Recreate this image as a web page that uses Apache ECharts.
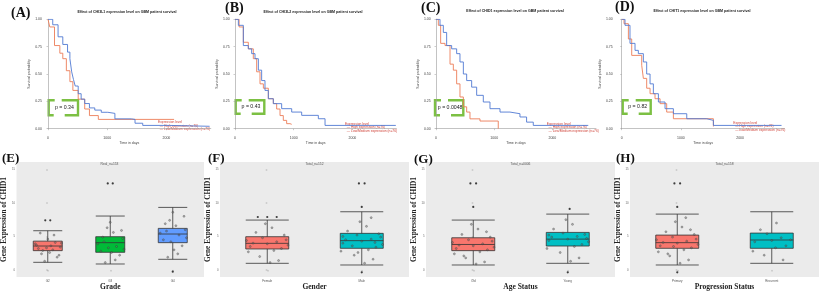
<!DOCTYPE html>
<html>
<head>
<meta charset="utf-8">
<script src="https://cdn.jsdelivr.net/npm/echarts@6/dist/echarts.min.js"></script>
<style>
  html, body { margin: 0; padding: 0; background: #fff; }
  #chart { width: 824px; height: 294px; }
</style>
</head>
<body>
<div id="chart"></div>
<script>
// ---- Kaplan-Meier curves, [days, survival probability] ----
const survA_low = [[0,1],[80,0.95],[170,0.84],[250,0.77],[330,0.70],[370,0.64],[400,0.52],[430,0.45],[460,0.39],[510,0.32],[560,0.27],[620,0.23],[700,0.19],[790,0.17],[900,0.15],[1010,0.14],[1130,0.09],[1410,0.085],[1470,0.05],[1600,0.03],[2050,0.022],[2730,0.022]];
const survA_high = [[0,1],[30,0.93],[110,0.76],[200,0.69],[250,0.64],[310,0.53],[370,0.43],[420,0.35],[510,0.27],[620,0.18],[700,0.12],[850,0.085],[2130,0.085]];
const survB_low = [[0,1],[57,0.945],[142,0.76],[227,0.73],[284,0.686],[341,0.64],[398,0.535],[454,0.44],[511,0.35],[568,0.274],[653,0.229],[795,0.183],[966,0.152],[1136,0.122],[1420,0.091],[1534,0.03],[2740,0.03]];
const survB_high = [[0,1],[70,0.93],[142,0.79],[227,0.73],[312,0.64],[369,0.52],[426,0.41],[483,0.37],[568,0.274],[653,0.23],[710,0.18],[767,0.12],[823,0.076],[880,0.046],[937,0.04],[966,0.04]];
const survC_low = [[0,1],[69,0.945],[126,0.88],[183,0.76],[269,0.73],[355,0.686],[412,0.61],[470,0.5],[527,0.44],[613,0.38],[699,0.305],[813,0.244],[928,0.183],[1100,0.152],[1271,0.137],[1443,0.107],[1557,0.06],[1672,0.03],[2617,0.03]];
const survC_high = [[0,1],[40,0.945],[80,0.78],[155,0.76],[241,0.59],[298,0.535],[355,0.41],[412,0.29],[470,0.2],[527,0.152],[584,0.09],[756,0.07],[1070,0.0]];
const survD_low = [[0,1],[56,0.945],[140,0.78],[225,0.716],[281,0.686],[366,0.61],[422,0.5],[479,0.41],[535,0.32],[620,0.244],[732,0.183],[873,0.137],[1099,0.091],[1437,0.076],[1549,0.03],[2700,0.03]];
const survD_high = [[0,1],[39,0.96],[113,0.82],[169,0.67],[338,0.58],[366,0.46],[422,0.37],[479,0.32],[563,0.274],[648,0.229],[760,0.152],[873,0.091],[1549,0.02]];

const kmTitles = [
  'Effect of CHI3L1 expression level on GBM patient survival',
  'Effect of CHI3L2 expression level on GBM patient survival',
  'Effect of CHID1 expression level on GBM patient survival',
  'Effect of CHIT1 expression level on GBM patient survival'
];
const pValues = ['p = 0.34', 'p = 0.43', 'p = 0.0048', 'p = 0.82'];

// ---- box plots: [min, Q1, median, Q3, max] ----
const gradeCats = ['G2', 'G3', 'G4'];
const gradeBoxes = [[1.14,2.88,3.57,4.3,5.85],[0.89,2.63,4.07,4.96,8.04],[1.59,4.07,5.36,6.2,9.33]];
const gradePoints = [[-0.15,3.2],[0.05,3.6],[0.12,4.1],[-0.08,2.9],[0.2,3.4],[-0.2,3.9],[0.0,4.6],[0.1,5.2],[-0.1,2.4],[0.15,1.9],[-0.05,1.3],[0.08,3.0],[-0.18,3.7],[0.22,4.0],[-0.12,5.5],[0.03,2.6],[-0.02,3.3],[0.18,2.2],
  [0.9,4.2],[1.1,3.5],[1.05,5.6],[0.85,2.8],[1.2,4.7],[0.95,6.3],[1.15,2.2],[0.8,3.9],[1.0,7.1],[1.08,1.5],[0.92,1.1],[1.22,3.1],[0.88,4.9],[1.02,2.6],[1.18,5.9],[0.97,3.3],
  [1.9,5.8],[2.1,5.2],[2.05,6.6],[1.85,4.5],[2.2,6.0],[1.95,7.4],[2.15,3.6],[1.8,5.5],[2.0,8.6],[2.08,2.4],[1.92,1.9],[2.22,4.8],[1.88,6.9],[2.02,3.0],[2.18,8.0],[1.97,4.2]];
const gradeOutliers = [[-0.04,7.4],[0.04,7.4],[0.96,12.9],[1.04,12.9],[2.0,-0.25]];

const genderCats = ['Female', 'Male'];
const genderBoxes = [[0.99,3.13,3.97,4.96,7.44],[0.74,3.23,4.37,5.46,8.68]];
const genderPoints = [[-0.18,3.5],[0.1,4.2],[-0.05,4.8],[0.15,3.2],[-0.12,5.6],[0.05,6.3],[-0.2,2.7],[0.2,4.5],[0,3.9],[-0.08,2.0],[0.12,1.4],[0.18,5.2],[-0.15,4.0],[0.07,2.9],[-0.02,6.9],[0.22,3.7],[-0.22,4.4],[0.03,1.1],
  [0.8,4.0],[1.1,4.6],[0.95,5.2],[1.15,3.4],[0.85,5.8],[1.05,6.5],[0.78,2.8],[1.2,4.9],[1.0,4.3],[0.92,2.2],[1.12,1.6],[1.18,5.4],[0.83,4.5],[1.07,3.0],[0.98,7.2],[1.22,3.8],[0.8,5.0],[1.03,1.0],[0.9,3.6],[1.1,7.8],[0.96,2.6],[1.14,4.1]];
const genderOutliers = [[-0.1,7.9],[0.0,7.9],[0.1,7.9],[0.97,12.9],[1.03,12.9],[1.0,9.4],[1.0,-0.35]];

const ageCats = ['Old', 'Young'];
const ageBoxes = [[0.74,2.88,3.8,4.8,7.44],[0.99,3.57,4.6,5.6,8.33]];
const agePoints = [[-0.18,3.2],[0.1,3.9],[-0.05,4.5],[0.15,3.0],[-0.12,5.3],[0.05,6.1],[-0.2,2.4],[0.2,4.3],[0,3.6],[-0.08,1.8],[0.12,1.2],[0.18,4.9],[-0.15,3.7],[0.07,2.7],[-0.02,6.8],[0.22,3.4],[-0.22,4.1],[0.03,0.9],[-0.1,2.1],[0.14,5.7],
  [0.8,4.4],[1.1,5.0],[0.95,5.5],[1.15,3.8],[0.85,6.1],[1.05,6.8],[0.78,3.2],[1.2,4.7],[1.0,4.6],[0.92,2.6],[1.12,1.8],[1.18,5.3],[0.83,4.9],[1.07,3.5],[0.98,7.5],[1.22,4.2],[0.8,5.2],[1.03,1.3]];
const ageOutliers = [[-0.03,12.9],[0.03,12.9],[0,9.4],[1.0,-0.35],[1.02,9.1]];

const progCats = ['Primary', 'Recurrent'];
const progBoxes = [[0.74,3.23,4.07,5.2,8.33],[0.99,3.23,4.47,5.5,8.68]];
const progPoints = [[-0.18,3.6],[0.1,4.3],[-0.05,4.9],[0.15,3.3],[-0.12,5.7],[0.05,6.4],[-0.2,2.7],[0.2,4.6],[0,4.0],[-0.08,2.1],[0.12,1.5],[0.18,5.3],[-0.15,4.1],[0.07,3.0],[-0.02,7.2],[0.22,3.8],[-0.22,4.5],[0.03,1.0],[-0.1,2.4],[0.14,6.0],[-0.04,3.5],[0.09,7.8],
  [0.82,4.2],[1.1,4.8],[0.95,5.4],[1.15,3.6],[0.88,6.0],[1.05,7.0],[0.8,2.8],[1.2,4.5],[1.0,4.4],[0.92,2.2],[1.12,1.5],[1.04,3.3]];
const progOutliers = [[-0.03,12.9],[0.03,12.9],[0,9.4],[0,-0.35]];

const BLUE = '#5079d3';
const ORANGE = '#ec7d58';
const GREEN_P = '#7cc043';
const LEGEND_RED = '#d0443a';
const SERIF = '"Liberation Serif", "DejaVu Serif", serif';
const SANS = '"Liberation Sans", Arial, sans-serif';

const kmPanels = [
  { label: '(A)', lx: 11, ly: 13.5, grid: { left: 48, top: 19.3, width: 162.8, height: 109.4 }, yOff: 4, low: survA_low, high: survA_high, titleX: 127, titleY: 11.7, pBox: [48.7, 100.3, 78, 115.3], legend: [158, 120.5] },
  { label: '(B)', lx: 225, ly: 8.5, grid: { left: 235, top: 19.3, width: 161.4, height: 109.4 }, yOff: 3.3, low: survB_low, high: survB_high, titleX: 313, titleY: 11.7, pBox: [235.7, 100.3, 264.3, 113.7], legend: [345, 122] },
  { label: '(C)', lx: 421, ly: 8.5, grid: { left: 436, top: 19.3, width: 160, height: 109.4 }, yOff: 3.3, low: survC_low, high: survC_high, titleX: 515, titleY: 10.7, pBox: [435, 100.3, 463.3, 115.3], legend: [546.7, 122] },
  { label: '(D)', lx: 615, ly: 7, grid: { left: 621.7, top: 19.3, width: 162.8, height: 109.4 }, yOff: 7, low: survD_low, high: survD_high, titleX: 702, titleY: 10.7, pBox: [622.7, 100.3, 650.7, 113.7], legend: [733.3, 121] }
];

const boxPanels = [
  { label: '(E)', lx: 2, ly: 158.3, left: 15, cats: gradeCats, boxes: gradeBoxes, points: gradePoints, outliers: gradeOutliers, colors: ['#f8766d', '#00ba38', '#619cff'], boxW: 29, xName: 'Grade', sub: 'Real_n=153' },
  { label: '(F)', lx: 208, ly: 159, left: 220, cats: genderCats, boxes: genderBoxes, points: genderPoints, outliers: genderOutliers, colors: ['#f8766d', '#00bfc4'], boxW: 43, xName: 'Gender', sub: 'Total_n=152' },
  { label: '(G)', lx: 414, ly: 159.5, left: 426, cats: ageCats, boxes: ageBoxes, points: agePoints, outliers: ageOutliers, colors: ['#f8766d', '#00bfc4'], boxW: 43, xName: 'Age Status', sub: 'Total_n=0006' },
  { label: '(H)', lx: 616, ly: 159, left: 630, cats: progCats, boxes: progBoxes, points: progPoints, outliers: progOutliers, colors: ['#f8766d', '#00bfc4'], boxW: 43, xName: 'Progression Status', sub: 'Total_n=158' }
];

const grids = [], xAxes = [], yAxes = [], series = [], graphics = [];

kmPanels.forEach((p, i) => {
  grids.push(p.grid);
  xAxes.push({
    gridIndex: i, type: 'value', min: 0, max: 2750, interval: 1000, offset: 5,
    name: 'Time in days', nameLocation: 'middle', nameGap: 6,
    nameTextStyle: { fontSize: 3.5, color: '#444', fontFamily: SANS },
    axisLine: { lineStyle: { color: '#9a9a9a', width: 0.6 } },
    axisTick: { length: 1.5, lineStyle: { color: '#9a9a9a', width: 0.5 } },
    axisLabel: { fontSize: 3.5, color: '#444', margin: 2, fontFamily: SANS, showMaxLabel: false, formatter: v => String(v) },
    splitLine: { show: false }
  });
  yAxes.push({
    gridIndex: i, type: 'value', min: 0, max: 1, interval: 0.25, offset: p.yOff,
    name: 'Survival probability', nameLocation: 'middle', nameGap: 12,
    nameTextStyle: { fontSize: 3.5, color: '#444', fontFamily: SANS },
    axisLine: { show: true, lineStyle: { color: '#9a9a9a', width: 0.6 } },
    axisTick: { show: true, length: 1.5, lineStyle: { color: '#9a9a9a', width: 0.5 } },
    axisLabel: { fontSize: 3.5, color: '#444', margin: 2, fontFamily: SANS, formatter: v => v.toFixed(2) },
    splitLine: { show: false }
  });
  [[p.high, ORANGE, 'High expression'], [p.low, BLUE, 'Low/Medium expression']].forEach(([d, c, n]) => {
    series.push({
      type: 'line', name: n, step: 'end', xAxisIndex: i, yAxisIndex: i, data: d,
      showSymbol: false, silent: true, lineStyle: { color: c, width: 0.9 }, itemStyle: { color: c }
    });
  });

  graphics.push({ type: 'text', x: p.lx, y: p.ly, style: { text: p.label, font: 'bold 14px ' + SERIF, fill: '#111', verticalAlign: 'middle' } });
  graphics.push({ type: 'text', x: p.titleX, y: p.titleY, style: { text: kmTitles[i], font: 'bold 3.6px ' + SANS, fill: '#222', align: 'center', verticalAlign: 'middle' } });

  // p-value bracket box
  const [x0, y0, x1, y1] = p.pBox;
  const line = { stroke: GREEN_P, lineWidth: 2.4, fill: null };
  graphics.push({ type: 'polyline', shape: { points: [[x0 + 6, y0], [x0, y0], [x0, y1], [x0 + 5, y1]] }, style: line });
  graphics.push({ type: 'polyline', shape: { points: [[x0 + 13, y0], [x1, y0], [x1, y1], [x0 + 16, y1]] }, style: line });
  graphics.push({ type: 'text', x: (x0 + x1) / 2 + 1, y: (y0 + y1) / 2, style: { text: pValues[i], font: '5.2px ' + SANS, fill: '#222', align: 'center', verticalAlign: 'middle' } });

  // legend text
  const [lx, ly] = p.legend;
  graphics.push({ type: 'text', x: lx, y: ly, style: { text: 'Expression level\n  \u2014 High expression (n=76)\n  \u2014 Low/Medium expression (n=76)', font: '3.3px ' + SANS, fill: LEGEND_RED, lineHeight: 3.6, verticalAlign: 'top' } });
});

boxPanels.forEach((p, j) => {
  const gi = 4 + j;
  grids.push({ left: p.left, top: 162, width: 189, height: 115, show: true, backgroundColor: '#ebebeb', borderWidth: 0 });
  const catAxis = xAxes.length;
  xAxes.push({
    gridIndex: gi, type: 'category', data: p.cats,
    name: p.xName, nameLocation: 'middle', nameGap: 6,
    nameTextStyle: { fontSize: 7.5, fontWeight: 'bold', color: '#222', fontFamily: SERIF },
    axisLine: { show: false }, axisTick: { show: true, alignWithLabel: true, length: 1.5, lineStyle: { color: '#555', width: 0.4 } },
    axisLabel: { fontSize: 3, color: '#555', margin: 2.5, fontFamily: SANS }
  });
  const valAxis = xAxes.length;
  xAxes.push({ gridIndex: gi, type: 'value', min: -0.5, max: p.cats.length - 0.5, show: false });
  yAxes.push({
    gridIndex: gi, type: 'value', min: -1.05, max: 16.1, splitNumber: 3,
    name: 'Gene Expression of CHID1', nameLocation: 'middle', nameGap: 7,
    nameTextStyle: { fontSize: 7.3, fontWeight: 'bold', color: '#222', fontFamily: SERIF },
    axisLine: { show: false }, axisTick: { show: true, length: 1.5, lineStyle: { color: '#555', width: 0.4 } },
    axisLabel: { fontSize: 2.8, color: '#666', margin: 1.5, fontFamily: SANS, showMinLabel: false, showMaxLabel: false },
    splitLine: { show: false }
  });
  series.push({
    type: 'boxplot', xAxisIndex: catAxis, yAxisIndex: gi, silent: true,
    boxWidth: [p.boxW, p.boxW],
    itemStyle: { borderColor: '#333', borderWidth: 0.8 },
    data: p.boxes.map((b, k) => ({ value: b, itemStyle: { color: p.colors[k], borderColor: '#333' } }))
  });
  series.push({
    type: 'scatter', xAxisIndex: valAxis, yAxisIndex: gi, data: p.points, silent: true, z: 5,
    symbol: 'circle', symbolSize: 2, itemStyle: { color: 'rgba(110,110,110,0.6)', borderColor: '#333', borderWidth: 0.4 }
  });
  series.push({
    type: 'scatter', xAxisIndex: valAxis, yAxisIndex: gi, data: p.outliers, silent: true, z: 5,
    symbol: 'circle', symbolSize: 2.2, itemStyle: { color: '#111' }
  });
  graphics.push({ type: 'text', x: p.lx, y: p.ly, style: { text: p.label, font: 'bold 13px ' + SERIF, fill: '#111', verticalAlign: 'middle' } });
  graphics.push({ type: 'text', x: p.left + 94.5, y: 164.5, style: { text: p.sub, font: '3.3px ' + SANS, fill: '#555', align: 'center', verticalAlign: 'middle' } });
});

const chart = echarts.init(document.getElementById('chart'), null, { renderer: 'canvas' });
chart.setOption({
  animation: false,
  backgroundColor: '#fff',
  grid: grids,
  xAxis: xAxes,
  yAxis: yAxes,
  series: series,
  graphic: graphics
});
</script>
</body>
</html>
